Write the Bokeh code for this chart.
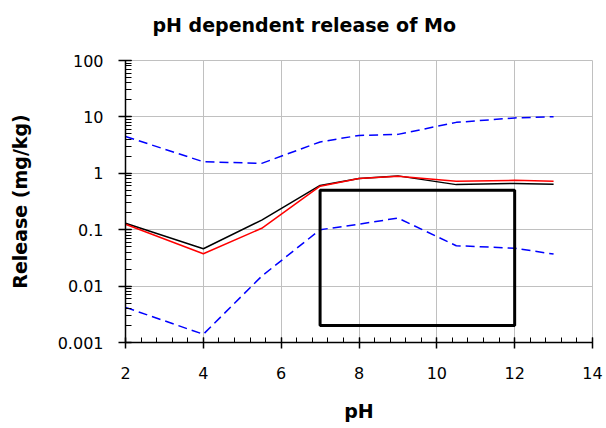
from bokeh.plotting import figure
from bokeh.models import (Range1d, SingleIntervalTicker, LogTicker, ColumnDataSource,
                          CustomJSTickFormatter, Title)
from bokeh.embed import file_html
from bokeh.resources import INLINE

# ---- data ----
ph = [2, 4, 5.5, 7, 8, 9, 10.5, 12, 13]
upper_release = [4.5, 1.6, 1.5, 3.6, 4.7, 4.9, 8.0, 9.6, 10.1]
black_release = [0.13, 0.046, 0.148, 0.61, 0.81, 0.90, 0.63, 0.66, 0.64]
red_release = [0.125, 0.0375, 0.106, 0.59, 0.81, 0.89, 0.72, 0.75, 0.72]
lower_release = [0.0042, 0.0014, 0.015, 0.10, 0.125, 0.161, 0.052, 0.047, 0.037]

box_ph = [7, 12]
box_release = [0.002, 0.5]

title_text = "pH dependent release of Mo"
x_title = "pH"
y_title = "Release (mg/kg)"

FONT = "DejaVu Sans"
GRID = "#c0c0c0"

p = figure(width=606, height=428, output_backend="svg", toolbar_location=None,
           x_range=Range1d(2, 14), y_range=Range1d(0.001, 100), y_axis_type="log",
           min_border_left=125, min_border_right=14, min_border_top=60, min_border_bottom=86)
p.title = Title(text=title_text, align="left", offset=27, text_font=FONT,
                text_font_style="bold", text_font_size="19px", text_color="black",
                standoff=6)
# empty spacer between the frame and the title
p.add_layout(Title(text=" ", text_font_size="14px", standoff=4), "above")
p.outline_line_color = GRID
p.background_fill_color = "white"
p.border_fill_color = "white"

# axes
p.xaxis.ticker = SingleIntervalTicker(interval=2, num_minor_ticks=5)
p.yaxis.ticker = LogTicker(num_minor_ticks=10)
for ax in (p.xaxis, p.yaxis):
    ax.axis_line_color = "black"
    ax.axis_line_width = 1.5
    ax.major_tick_line_color = "black"
    ax.major_tick_line_width = 1.5
    ax.minor_tick_line_color = "black"
    ax.minor_tick_line_width = 1
    ax.minor_tick_out = 0
    ax.major_label_text_font = FONT
    ax.major_label_text_font_size = "16px"
    ax.major_label_text_color = "black"
    ax.axis_label_text_font = FONT
    ax.axis_label_text_font_style = "bold"
    ax.axis_label_text_color = "black"
p.xaxis.major_tick_in = 5
p.xaxis.major_tick_out = 6
p.xaxis.minor_tick_in = 5
p.xaxis.major_label_standoff = 18
p.yaxis.major_tick_in = 6
p.yaxis.major_tick_out = 7
p.yaxis.minor_tick_in = 6
p.yaxis.major_label_standoff = 15
p.yaxis.formatter = CustomJSTickFormatter(code="""
    const e = Math.round(Math.log10(tick));
    if (e >= 0) return String(Math.pow(10, e));
    return (Math.pow(10, e)).toFixed(-e);
""")

p.xaxis.axis_label = x_title
p.xaxis.axis_label_text_font_size = "19px"
p.xaxis.axis_label_standoff = 18
p.yaxis.axis_label = y_title
p.yaxis.axis_label_text_font_size = "19px"
p.yaxis.axis_label_standoff = 24

p.xgrid.grid_line_color = GRID
p.ygrid.grid_line_color = GRID

src = ColumnDataSource(dict(ph=ph, up=upper_release, bl=black_release,
                            rd=red_release, lo=lower_release))

p.line("ph", "up", source=src, line_color="#0000ff", line_width=1.5, line_dash="9 5")
p.line("ph", "lo", source=src, line_color="#0000ff", line_width=1.5, line_dash="9 5")
p.line("ph", "bl", source=src, line_color="black", line_width=1.5)
p.line("ph", "rd", source=src, line_color="#ff0000", line_width=1.5)

p.quad(left=[box_ph[0]], right=[box_ph[1]], bottom=[box_release[0]], top=[box_release[1]],
       fill_color=None, line_color="black", line_width=3)

open("out.html", "w").write(file_html(p, INLINE))
